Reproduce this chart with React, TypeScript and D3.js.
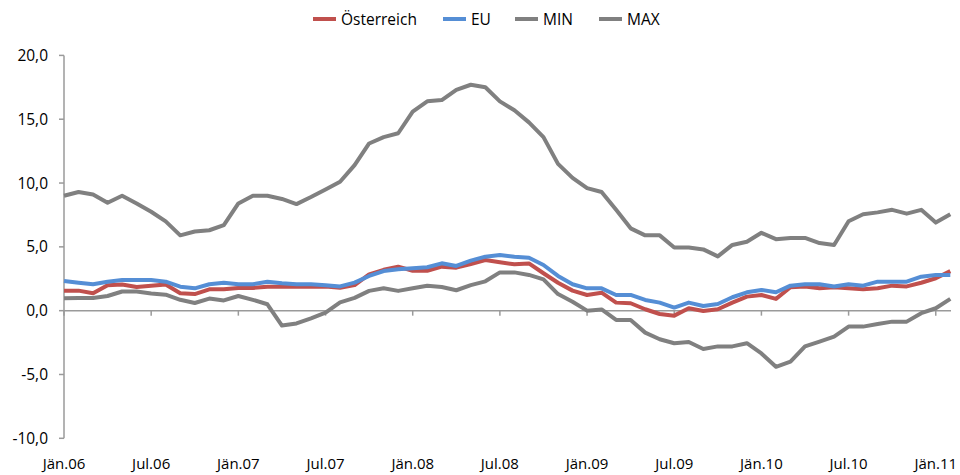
import React from "react";
import * as d3 from "d3";

const monthNames = ["Jän", "Feb", "Mär", "Apr", "Mai", "Jun", "Jul", "Aug", "Sep", "Okt", "Nov", "Dez"];
const years = ["06", "07", "08", "09", "10", "11"];
const categories: string[] = [];
years.forEach((y) => monthNames.forEach((m) => categories.push(`${m}.${y}`)));
const months = categories.slice(0, 62); // Jän.06 .. Feb.11

const oesterreich = [
  1.57, 1.57, 1.36, 2.0, 2.05, 1.85, 1.95, 2.05, 1.36, 1.3,
  1.67, 1.67, 1.78, 1.78, 1.88, 1.88, 1.88, 1.88, 1.9, 1.8,
  2.0, 2.85, 3.2, 3.45, 3.13, 3.13, 3.45, 3.37, 3.66, 3.97,
  3.79, 3.63, 3.7, 2.93, 2.19, 1.57, 1.23, 1.41, 0.63, 0.58,
  0.11, -0.26, -0.39, 0.19, -0.02, 0.11, 0.63, 1.1, 1.23, 0.92,
  1.83, 1.9, 1.75, 1.83, 1.75, 1.67, 1.75, 1.96, 1.9, 2.19,
  2.54, 3.1,
];
const eu = [
  2.33, 2.19, 2.07, 2.27, 2.4, 2.4, 2.4, 2.27, 1.88, 1.75,
  2.07, 2.19, 2.07, 2.07, 2.27, 2.15, 2.07, 2.07, 2.0, 1.9,
  2.2, 2.72, 3.1, 3.24, 3.32, 3.4, 3.71, 3.5, 3.92, 4.23,
  4.36, 4.23, 4.15, 3.58, 2.72, 2.07, 1.75, 1.75, 1.23, 1.23,
  0.84, 0.63, 0.24, 0.63, 0.37, 0.52, 1.05, 1.44, 1.62, 1.44,
  1.96, 2.07, 2.07, 1.9, 2.07, 1.96, 2.27, 2.27, 2.27, 2.66,
  2.8, 2.8,
];
const minValues = [
  0.97, 1.0, 1.0, 1.15, 1.5, 1.5, 1.35, 1.25, 0.85, 0.6,
  0.95, 0.8, 1.15, 0.85, 0.5, -1.17, -1.0, -0.6, -0.15, 0.65,
  1.0, 1.55, 1.75, 1.55, 1.75, 1.95, 1.85, 1.6, 2.0, 2.3,
  3.0, 3.0, 2.8, 2.45, 1.3, 0.7, 0.0, 0.1, -0.73, -0.73,
  -1.72, -2.24, -2.55, -2.45, -3.0, -2.8, -2.8, -2.55, -3.35, -4.4,
  -4.0, -2.8, -2.43, -2.04, -1.25, -1.25, -1.04, -0.86, -0.86, -0.2,
  0.19, 0.92,
];
const maxValues = [
  9.0, 9.3, 9.1, 8.45, 9.0, 8.4, 7.75, 7.0, 5.9, 6.2,
  6.3, 6.7, 8.4, 9.0, 9.0, 8.75, 8.35, 8.9, 9.5, 10.1,
  11.4, 13.1, 13.6, 13.9, 15.6, 16.4, 16.5, 17.3, 17.7, 17.5,
  16.4, 15.7, 14.75, 13.6, 11.5, 10.4, 9.6, 9.3, 7.9, 6.45,
  5.9, 5.9, 4.95, 4.95, 4.8, 4.25, 5.15, 5.4, 6.1, 5.6,
  5.7, 5.7, 5.3, 5.15, 7.0, 7.55, 7.7, 7.9, 7.6, 7.9,
  6.9, 7.55,
];

const yTicks = [-10, -5, 0, 5, 10, 15, 20];
const seriesNames = ["Österreich", "EU", "MIN", "MAX"];
const seriesColors = ["#C0504D", "#558ED5", "#808080", "#808080"];
const seriesData = [oesterreich, eu, minValues, maxValues];

const FONT = "'Open Sans', 'Liberation Sans', sans-serif";

const fmt = (t: number) => d3.format(".1f")(t).replace(".", ",").replace("\u2212", "-");

export default function App() {
  const W = 960;
  const H = 475;
  const x = d3.scalePoint<string>().domain(months).range([64, 950.3]);
  const y = d3.scaleLinear().domain([-10, 20]).range([438.3, 55.4]);
  const line = d3
    .line<number>()
    .x((_, i) => x(months[i]) as number)
    .y((d) => y(d));

  const labelMonths = months.filter((_, i) => i % 6 === 0);
  const axisColor = "#9A9A9A";

  // legend layout
  const legendWidths = [80, 22, 34, 38];
  const lineLen = 23;
  const gapAfterLine = 5;
  const gapBetween = 22;
  const totalLegend =
    legendWidths.reduce((a, b) => a + b, 0) +
    seriesNames.length * (lineLen + gapAfterLine) +
    (seriesNames.length - 1) * gapBetween;
  let lx = 489 - totalLegend / 2;
  const legendItems = seriesNames.map((name, i) => {
    const start = lx;
    lx += lineLen + gapAfterLine + legendWidths[i] + gapBetween;
    return { name, color: seriesColors[i], start };
  });

  return (
    <svg
      width={W}
      height={H}
      style={{ position: "absolute", left: 0, top: 0, background: "#fff" }}
      fontFamily={FONT}
    >
      {/* Y axis */}
      <line x1={64} x2={64} y1={y(20)} y2={y(-10)} stroke={axisColor} strokeWidth={1.5} />
      {yTicks.map((t) => (
        <g key={t}>
          <line x1={59} x2={64} y1={y(t)} y2={y(t)} stroke={axisColor} strokeWidth={1.5} />
          <text x={48} y={y(t)} dy="0.36em" textAnchor="end" fontSize={15.5} fill="#000">
            {fmt(t)}
          </text>
        </g>
      ))}
      {/* X axis at 0 */}
      <line x1={64} x2={951} y1={y(0)} y2={y(0)} stroke={axisColor} strokeWidth={1.5} />
      {labelMonths.map((m) => (
        <g key={m}>
          <line
            x1={x(m) as number}
            x2={x(m) as number}
            y1={y(0)}
            y2={y(0) + 5}
            stroke={axisColor}
            strokeWidth={1.5}
          />
          <text x={x(m) as number} y={469} textAnchor="middle" fontSize={15} fill="#000">
            {m}
          </text>
        </g>
      ))}
      {/* Series */}
      {seriesData.map((data, i) => (
        <path
          key={seriesNames[i]}
          d={line(data) || ""}
          fill="none"
          stroke={seriesColors[i]}
          strokeWidth={4}
          strokeLinejoin="round"
          strokeLinecap="butt"
        />
      ))}
      {/* Legend */}
      {legendItems.map((it) => (
        <g key={it.name}>
          <line
            x1={it.start}
            x2={it.start + lineLen}
            y1={19}
            y2={19}
            stroke={it.color}
            strokeWidth={4}
          />
          <text
            x={it.start + lineLen + gapAfterLine}
            y={19}
            dy="0.36em"
            fontSize={15.5}
            fill="#000"
          >
            {it.name}
          </text>
        </g>
      ))}
    </svg>
  );
}
